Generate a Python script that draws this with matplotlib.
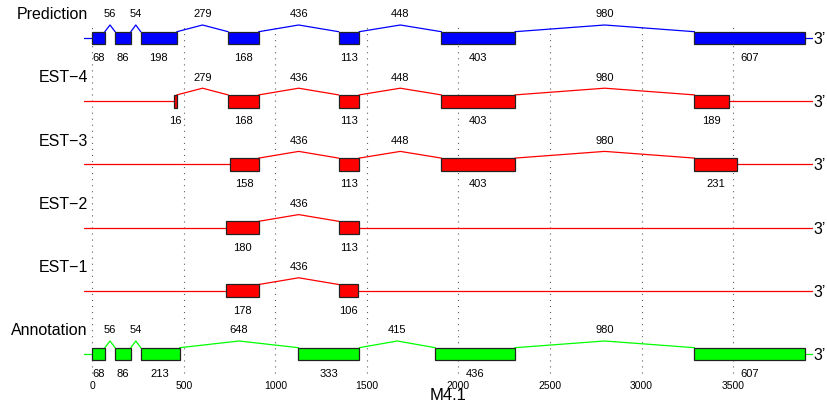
import matplotlib.pyplot as plt
from matplotlib.patches import Rectangle

plt.rcParams['font.family'] = ['Liberation Sans', 'DejaVu Sans']
plt.rcParams['lines.scale_dashes'] = False

# gene models, top to bottom
tracks = ['Prediction', 'EST\u22124', 'EST\u22123', 'EST\u22122', 'EST\u22121', 'Annotation']
colors = ['#0000ff', '#ff0000', '#ff0000', '#ff0000', '#ff0000', '#00ff00']
starts = [0, 446, 751, 729, 731, 0]
exons = [
    [68, 86, 198, 168, 113, 403, 607],
    [16, 168, 113, 403, 189],
    [158, 113, 403, 231],
    [180, 113],
    [178, 106],
    [68, 86, 213, 333, 436, 607],
]
introns = [
    [56, 54, 279, 436, 448, 980],
    [279, 436, 448, 980],
    [436, 448, 980],
    [436],
    [436],
    [56, 54, 648, 415, 980],
]
ticks = [0, 500, 1000, 1500, 2000, 2500, 3000, 3500]

x_min, x_max = -46, 3937
half_h = 0.1      # half exon height
peak = 0.106      # intron hat above exon top

fig = plt.figure(figsize=(8.28, 4.12), dpi=100)
ax = fig.add_axes([84 / 828, 42 / 412, 729 / 828, 350 / 412])
ax.set_xlim(x_min, x_max)
ax.set_ylim(-5.253, 0.285)

# sparse dotted guides at the tick positions
ax.vlines(ticks, -5.30, 0.19, color='#555555', lw=0.8,
          linestyles=(0, (0.75, 3.6)), zorder=0, clip_on=False)

for i, name in enumerate(tracks):
    y = -i
    c = colors[i]
    pos = starts[i]
    blocks = []
    for k, ex in enumerate(exons[i]):
        blocks.append((pos, ex))
        pos += ex
        if k < len(introns[i]):
            pos += introns[i][k]

    # flanking lines
    ax.plot([x_min, blocks[0][0]], [y, y], color=c, lw=0.9, zorder=2)
    end = blocks[-1][0] + blocks[-1][1]
    ax.plot([end, x_max], [y, y], color=c, lw=0.9, zorder=2)

    for k, (s, ex) in enumerate(blocks):
        ax.add_patch(Rectangle((s, y - half_h), ex, 2 * half_h, facecolor=c,
                               edgecolor='#222222', lw=0.9, zorder=3))
        ax.text(s + ex / 2, y - 0.364, str(ex), ha='center', va='baseline',
                fontsize=8, zorder=4)
        if k < len(introns[i]):
            a = s + ex
            b = blocks[k + 1][0]
            m = (a + b) / 2
            top = y + half_h
            ax.plot([a, m, b], [top, top + peak, top], color=c, lw=0.9,
                    zorder=2, clip_on=False)
            ax.text(m, y + 0.327, str(introns[i][k]), ha='center', va='baseline',
                    fontsize=8, clip_on=False)

    ax.text(-25, y + 0.297, name, ha='right', va='baseline', fontsize=11.5,
            clip_on=False)
    ax.text(x_max + 4, y - 0.095, "3\u2019", ha='left', va='baseline',
            fontsize=11.5, clip_on=False)

ax.set_xticks(ticks)
ax.set_yticks([])
ax.tick_params(axis='x', length=0, pad=8, labelsize=7.5)
for sp in ax.spines.values():
    sp.set_visible(False)
ax.set_xlabel('M4.1', fontsize=12)
ax.xaxis.set_label_coords(0.5, -0.051)

fig.savefig('out.png', dpi=100)
